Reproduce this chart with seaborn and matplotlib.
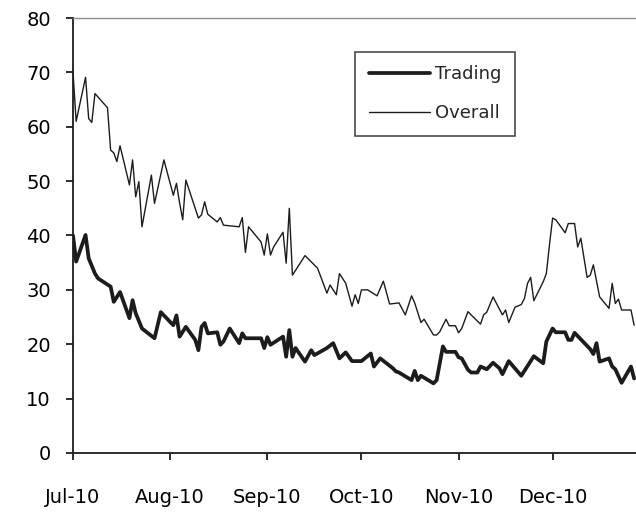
import pandas as pd
import matplotlib
matplotlib.use("Agg")
import matplotlib.pyplot as plt
import matplotlib.dates as mdates
import seaborn as sns

# days since 1 Jul 2010 and index values
trading_days = [0, 1, 4, 5, 7, 8, 12, 13, 15, 18, 19, 20, 22, 26, 28, 32, 33, 34, 36,
                39, 40, 41, 42, 43, 46, 47, 48, 50, 53, 54, 55, 60, 61, 62, 63, 67,
                68, 69, 70, 71, 74, 76, 77, 81, 83, 85, 87, 89, 92, 95, 96, 98, 102,
                103, 104, 108, 109, 110, 111, 115, 116, 118, 119, 122, 123, 124, 126,
                127, 129, 130, 132, 134, 136, 137, 139, 143, 147, 150, 151, 153, 154,
                157, 158, 159, 160, 162, 165, 166, 167, 168, 171, 172, 173, 175, 178, 179]
trading = [40.0, 35.2, 40.1, 35.8, 33.0, 32.1, 30.6, 27.8, 29.6, 24.8, 28.1, 25.7, 22.9,
           21.1, 25.9, 23.5, 25.3, 21.4, 23.2, 20.8, 18.9, 23.2, 23.9, 22.0, 22.2, 19.9,
           20.5, 22.9, 20.2, 22.0, 21.1, 21.1, 19.3, 21.3, 19.9, 21.4, 17.7, 22.6, 17.7,
           19.3, 16.8, 18.9, 18.0, 19.3, 20.2, 17.4, 18.5, 16.9, 16.9, 18.3, 15.9, 17.4,
           15.6, 15.0, 14.8, 13.4, 15.1, 13.4, 14.2, 12.8, 13.4, 19.6, 18.6, 18.6, 17.6,
           17.4, 15.3, 14.8, 14.8, 15.9, 15.4, 16.6, 15.6, 14.5, 16.9, 14.2, 17.8, 16.5,
           20.5, 22.9, 22.2, 22.2, 20.8, 20.8, 22.1, 20.9, 19.1, 18.2, 20.2, 16.8, 17.4,
           15.9, 15.4, 12.9, 15.9, 13.7]

overall_days = [0, 1, 4, 5, 6, 7, 11, 12, 13, 14, 15, 18, 19, 20, 21, 22, 25, 26, 29,
                32, 33, 34, 35, 36, 40, 41, 42, 43, 46, 47, 48, 53, 54, 55, 56, 60, 61,
                62, 63, 64, 67, 68, 69, 70, 74, 78, 81, 82, 84, 85, 87, 89, 90, 91, 92,
                94, 97, 99, 101, 104, 106, 108, 109, 111, 112, 115, 116, 117, 119, 120,
                122, 123, 124, 126, 127, 130, 131, 132, 134, 137, 138, 139, 141, 143,
                144, 145, 146, 147, 150, 151, 152, 153, 154, 157, 158, 160, 161, 162,
                164, 165, 166, 168, 171, 172, 173, 174, 175, 178, 179]
overall = [70.0, 61.0, 69.1, 61.5, 60.8, 66.1, 63.5, 55.7, 55.2, 53.6, 56.5, 49.3, 53.9,
           47.1, 49.9, 41.6, 51.1, 45.9, 53.9, 47.4, 49.6, 46.0, 42.9, 50.2, 43.2, 43.8,
           46.2, 43.9, 42.5, 43.3, 41.9, 41.6, 43.3, 36.9, 41.6, 38.8, 36.4, 40.3, 36.4,
           37.9, 40.6, 34.9, 45.0, 32.7, 36.3, 34.0, 29.4, 30.9, 29.1, 33.0, 31.2, 27.0,
           29.1, 27.5, 30.0, 30.0, 28.9, 31.6, 27.4, 27.6, 25.4, 28.9, 27.6, 24.0, 24.6,
           21.7, 21.7, 22.3, 24.6, 23.4, 23.4, 22.1, 22.9, 26.0, 25.4, 23.7, 25.4, 25.9,
           28.7, 25.4, 26.3, 24.0, 26.8, 27.3, 28.4, 31.2, 32.3, 28.0, 31.5, 33.0, 38.3,
           43.2, 42.9, 40.5, 42.2, 42.2, 37.9, 39.5, 32.3, 32.7, 34.6, 28.7, 26.6, 31.2,
           27.5, 28.3, 26.3, 26.3, 23.5]

start = pd.Timestamp("2010-07-01")
month_ticks = pd.date_range("2010-07-01", "2010-12-01", freq="MS")

trade_df = pd.DataFrame({"date": start + pd.to_timedelta(trading_days, unit="D"),
                         "value": trading})
overall_df = pd.DataFrame({"date": start + pd.to_timedelta(overall_days, unit="D"),
                           "value": overall})

sns.set_theme(style="white")
plt.rcParams["font.family"] = ["DejaVu Sans"]

fig = plt.figure(figsize=(6.36, 5.19), dpi=100)
ax = fig.add_axes([0.1148, 0.1272, 0.8852, 0.8381])

ink = "#1c1c1c"
sns.lineplot(data=trade_df, x="date", y="value", ax=ax, color=ink, lw=2.7, label="Trading")
sns.lineplot(data=overall_df, x="date", y="value", ax=ax, color=ink, lw=1.0, label="Overall")

ax.set_xlim(start, start + pd.Timedelta(days=179.6))
ax.set_ylim(0, 80)
ax.set_yticks(range(0, 81, 10))
ax.set_xticks(month_ticks)
ax.xaxis.set_major_formatter(mdates.DateFormatter("%b-%y"))
ax.set_xlabel("")
ax.set_ylabel("")

for side in ("left", "bottom"):
    ax.spines[side].set_color(ink)
    ax.spines[side].set_linewidth(1.3)
ax.spines["top"].set_color("#8c8c8c")
ax.spines["top"].set_linewidth(1.0)
ax.spines["right"].set_visible(False)

ax.tick_params(axis="both", which="major", direction="out", length=5, width=1.3,
               color=ink, labelcolor="black", labelsize=14)
ax.tick_params(axis="x", pad=20.5, bottom=True)
ax.tick_params(axis="y", pad=11, left=True)

leg = ax.legend(loc="upper left", bbox_to_anchor=(0.501, 0.922), borderaxespad=0,
                frameon=True, fancybox=False, fontsize=13, handlelength=3.4,
                handletextpad=0.3, labelspacing=1.15, borderpad=0.75)
leg.get_frame().set_edgecolor(ink)
leg.get_frame().set_linewidth(1.2)

fig.savefig("out.png", dpi=100, facecolor="white")
